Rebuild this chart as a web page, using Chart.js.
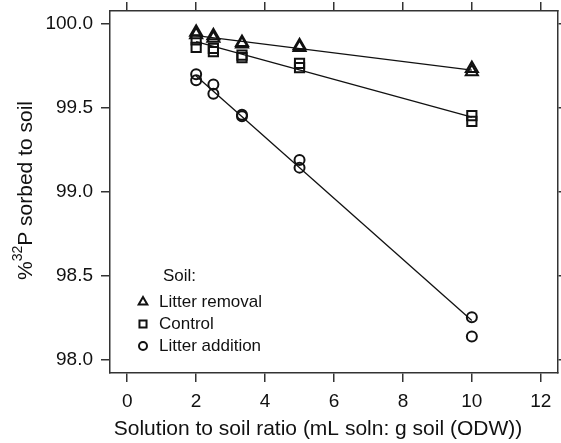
<!DOCTYPE html>
<html>
<head>
<meta charset="utf-8">
<script src="https://cdn.jsdelivr.net/npm/chart.js@4/dist/chart.umd.min.js"></script>
<style>
  html, body { margin: 0; padding: 0; background: #fff; }
  #wrap { width: 561px; height: 443px; }
</style>
</head>
<body>
<div id="wrap"><canvas id="myChart" width="561" height="443"></canvas></div>
<script>
// Solution to soil ratio (x values, two replicates each)
var ratios = [2, 2, 2.5, 2.5, 3.33, 3.33, 5, 5, 10, 10];

// % 32P sorbed to soil
var litterRemoval = [99.95, 99.935, 99.93, 99.915, 99.89, 99.88, 99.87, 99.86, 99.735, 99.715];
var control = [99.905, 99.86, 99.855, 99.835, 99.815, 99.80, 99.765, 99.74, 99.455, 99.42];
var litterAddition = [99.70, 99.665, 99.64, 99.585, 99.46, 99.45, 99.19, 99.145, 98.255, 98.14];

// fitted lines (end points)
var fitX = [2, 10];
var fitRemoval = [99.93, 99.725];
var fitControl = [99.895, 99.445];
var fitAddition = [99.69, 98.235];

var xTicks = [0, 2, 4, 6, 8, 10, 12];
var yTicks = [98.0, 98.5, 99.0, 99.5, 100.0];

var seriesNames = ['Litter removal', 'Control', 'Litter addition'];
var seriesStyles = ['triangle', 'rect', 'circle'];

function pts(xs, ys) {
    return xs.map(function (x, i) { return { x: x, y: ys[i] }; });
}

var ink = '#111';
var fontFam = '"Liberation Sans", Arial, Helvetica, sans-serif';

// legend drawn inside the plot
var legendPlugin = {
    id: 'soilLegend',
    afterDraw: function (chart) {
        var ctx = chart.ctx;
        ctx.save();
        ctx.font = '17px ' + fontFam;
        ctx.textBaseline = 'middle';
        ctx.fillStyle = ink;
        ctx.fillText('Soil:', 163, 276);
        var sizes = [5, 5, 4];
        for (var i = 0; i < seriesNames.length; i++) {
            var y = 302 + i * 22;
            ctx.lineWidth = 2;
            ctx.strokeStyle = ink;
            ctx.fillStyle = 'rgba(0,0,0,0)';
            Chart.helpers.drawPoint(ctx, {
                pointStyle: seriesStyles[i],
                radius: sizes[i],
                borderWidth: 2
            }, 143, y);
            ctx.fillStyle = ink;
            ctx.fillText(seriesNames[i], 159, y);
        }
        ctx.restore();
    }
};

// axis titles (y one has a superscript)
var titlePlugin = {
    id: 'axisTitles',
    afterDraw: function (chart) {
        var ctx = chart.ctx;
        ctx.save();
        ctx.fillStyle = ink;
        ctx.textBaseline = 'alphabetic';
        ctx.font = '21px ' + fontFam;
        ctx.textAlign = 'center';
        ctx.fillText('Solution to soil ratio (mL soln: g soil (ODW))', 318, 435);
        ctx.textAlign = 'left';
        ctx.translate(32, 280);
        ctx.rotate(-Math.PI / 2);
        var x = 0;
        ctx.fillText('%', x, 0);
        x += ctx.measureText('%').width;
        ctx.font = '14px ' + fontFam;
        ctx.fillText('32', x, -10);
        x += ctx.measureText('32').width;
        ctx.font = '21px ' + fontFam;
        ctx.fillText('P sorbed to soil', x, 0);
        ctx.restore();
    }
};

var ctx = document.getElementById('myChart').getContext('2d');

var markerBase = {
    type: 'scatter',
    showLine: false,
    borderColor: ink,
    backgroundColor: 'rgba(0,0,0,0)',
    borderWidth: 2
};

var chartData = {
    datasets: [
        Object.assign({}, markerBase, { label: seriesNames[0], data: pts(ratios, litterRemoval), pointStyle: 'triangle', pointRadius: 7 }),
        Object.assign({}, markerBase, { label: seriesNames[1], data: pts(ratios, control), pointStyle: 'rect', pointRadius: 6.5 }),
        Object.assign({}, markerBase, { label: seriesNames[2], data: pts(ratios, litterAddition), pointStyle: 'circle', pointRadius: 5 }),
        { type: 'line', data: pts(fitX, fitRemoval), borderColor: ink, borderWidth: 1.3, pointRadius: 0, fill: false },
        { type: 'line', data: pts(fitX, fitControl), borderColor: ink, borderWidth: 1.3, pointRadius: 0, fill: false },
        { type: 'line', data: pts(fitX, fitAddition), borderColor: ink, borderWidth: 1.3, pointRadius: 0, fill: false }
    ]
};

var frameGrid = { drawOnChartArea: false, drawTicks: true, tickLength: 9, color: '#333', lineWidth: 1.5 };
var frameBorder = { display: true, color: '#333', width: 1.5 };

var options = {
    responsive: false,
    animation: false,
    layout: { padding: 0, autoPadding: false },
    plugins: { legend: { display: false }, tooltip: { enabled: false } },
    scales: {
        x: {
            type: 'linear', position: 'bottom', min: -0.5, max: 12.5,
            grid: frameGrid, border: frameBorder,
            afterBuildTicks: function (s) { s.ticks = xTicks.map(function (v) { return { value: v }; }); },
            ticks: { color: ink, font: { family: fontFam, size: 19 }, padding: 8, maxRotation: 0 },
            afterFit: function (s) { s.height = 70; s.paddingLeft = 0; s.paddingRight = 0; }
        },
        x2: {
            type: 'linear', position: 'top', min: -0.5, max: 12.5,
            grid: frameGrid, border: frameBorder,
            afterBuildTicks: function (s) { s.ticks = xTicks.map(function (v) { return { value: v }; }); },
            ticks: { display: false },
            afterFit: function (s) { s.height = 11; }
        },
        y: {
            type: 'linear', position: 'left', min: 97.923, max: 100.077,
            grid: frameGrid, border: frameBorder,
            afterBuildTicks: function (s) { s.ticks = yTicks.map(function (v) { return { value: v }; }); },
            ticks: { color: ink, font: { family: fontFam, size: 19 }, padding: 8, callback: function (v) { return v.toFixed(1); } },
            afterFit: function (s) { s.width = 110; s.paddingTop = 0; s.paddingBottom = 0; }
        },
        y2: {
            type: 'linear', position: 'right', min: 97.923, max: 100.077,
            grid: frameGrid, border: frameBorder,
            afterBuildTicks: function (s) { s.ticks = yTicks.map(function (v) { return { value: v }; }); },
            ticks: { display: false },
            afterFit: function (s) { s.width = 3; }
        }
    }
};

new Chart(ctx, {
    type: 'scatter',
    data: chartData,
    options: options,
    plugins: [legendPlugin, titlePlugin]
});
</script>
</body>
</html>
